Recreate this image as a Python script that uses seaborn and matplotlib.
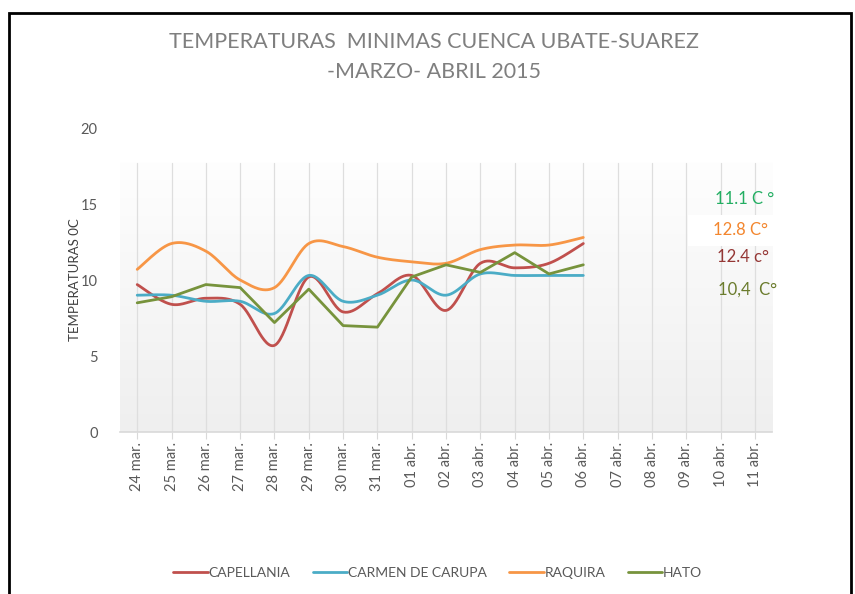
import numpy as np
import pandas as pd
import matplotlib.pyplot as plt
import seaborn as sns
from matplotlib.patches import Rectangle
from matplotlib.colors import LinearSegmentedColormap

# ---------------------------------------------------------------
# DATOS
# ---------------------------------------------------------------
fechas = ['24 mar.', '25 mar.', '26 mar.', '27 mar.', '28 mar.', '29 mar.',
          '30 mar.', '31 mar.', '01 abr.', '02 abr.', '03 abr.', '04 abr.',
          '05 abr.', '06 abr.', '07 abr.', '08 abr.', '09 abr.', '10 abr.',
          '11 abr.']

capellania = [9.7, 8.4, 8.8, 8.4, 5.7, 10.2, 7.9, 9.1, 10.3, 8.0, 11.1, 10.8, 11.1, 12.4]
carmen_de_carupa = [9.0, 9.0, 8.6, 8.6, 7.8, 10.3, 8.6, 9.0, 10.0, 9.0, 10.4, 10.3, 10.3, 10.3]
raquira = [10.7, 12.4, 11.9, 10.0, 9.5, 12.4, 12.2, 11.5, 11.2, 11.1, 12.0, 12.3, 12.3, 12.8]
hato = [8.5, 8.9, 9.7, 9.5, 7.2, 9.4, 7.0, 6.9, 10.2, 11.0, 10.5, 11.8, 10.4, 11.0]

series = ['CAPELLANIA', 'CARMEN DE CARUPA', 'RAQUIRA', 'HATO']
valores = [capellania, carmen_de_carupa, raquira, hato]
suavizado = [True, True, True, False]
colores = ['#C0504D', '#4BACC6', '#F79646', '#77933C']

notas = ['11.1 C °', '12.8 C°', '12.4 c°', '10,4  C°']
notas_colores = ['#22AE62', '#F3862E', '#953735', '#6A7B2C']


# curva suavizada tipo Excel (bezier con tension 1/6)
def suavizar(y, n=30):
    x = np.arange(len(y), dtype=float)
    y = np.asarray(y, dtype=float)
    xs, ys = [], []
    for i in range(len(y) - 1):
        p0 = i - 1 if i > 0 else i
        p3 = i + 2 if i + 2 < len(y) else i + 1
        cx1 = x[i] + (x[i + 1] - x[p0]) / 6
        cy1 = y[i] + (y[i + 1] - y[p0]) / 6
        cx2 = x[i + 1] - (x[p3] - x[i]) / 6
        cy2 = y[i + 1] - (y[p3] - y[i]) / 6
        t = np.linspace(0, 1, n, endpoint=(i == len(y) - 2))
        b0, b1, b2, b3 = (1 - t) ** 3, 3 * t * (1 - t) ** 2, 3 * t ** 2 * (1 - t), t ** 3
        xs.append(b0 * x[i] + b1 * cx1 + b2 * cx2 + b3 * x[i + 1])
        ys.append(b0 * y[i] + b1 * cy1 + b2 * cy2 + b3 * y[i + 1])
    return np.concatenate(xs), np.concatenate(ys)


filas = []
for nombre, vals, sm in zip(series, valores, suavizado):
    if sm:
        xs, ys = suavizar(vals)
    else:
        xs, ys = np.arange(len(vals)), np.asarray(vals)
    for a, b in zip(xs, ys):
        filas.append({'serie': nombre, 'x': a, 'temp': b})
df = pd.DataFrame(filas)

# ---------------------------------------------------------------
# GRAFICO
# ---------------------------------------------------------------
sns.set_style('white')
plt.rcParams['font.family'] = ['Lato', 'DejaVu Sans']

fig = plt.figure(figsize=(8.55, 5.94), dpi=100)
ax = fig.add_axes([0.1404, 0.2727, 0.7626, 0.5118])

# fondo degradado del area de trazado
grad = np.linspace(0, 1, 256).reshape(-1, 1)
ax.imshow(grad, extent=(-0.5, 18.5, 0, 17.7), origin='upper', aspect='auto',
          cmap=LinearSegmentedColormap.from_list('g', ['#FEFEFE', '#EFEFEF']),
          zorder=0)

for i in range(len(fechas)):
    ax.axvline(i, ymin=0, ymax=17.7 / 20, color='#DEDEDE', lw=0.9, zorder=1)

sns.lineplot(data=df, x='x', y='temp', hue='serie', hue_order=series,
             palette=colores, sort=False, estimator=None, units='serie',
             linewidth=2.0, ax=ax, zorder=3)

ax.set_xlim(-0.5, 18.5)
ax.set_ylim(0, 20)
ax.set_yticks([0, 5, 10, 15, 20])
ax.set_xticks(range(len(fechas)))
ax.set_xticklabels(fechas, rotation=90)
ax.tick_params(axis='y', length=0, labelsize=10.5, labelcolor='#595959', pad=16)
ax.tick_params(axis='x', length=5, color='#D9D9D9', labelsize=10.5,
               labelcolor='#595959', pad=2, direction='out', bottom=True)
for s in ['top', 'right', 'left']:
    ax.spines[s].set_visible(False)
ax.spines['bottom'].set_color('#D9D9D9')
ax.spines['bottom'].set_linewidth(1.2)
ax.set_xlabel('')
ax.set_ylabel('TEMPERATURAS 0C', fontsize=9.5, color='#404040', labelpad=0)

# titulo
fig.text(0.508, 0.929, 'TEMPERATURAS  MINIMAS CUENCA UBATE-SUAREZ',
         ha='center', va='center', fontsize=15.5, color='#7F7F7F')
fig.text(0.508, 0.879, '-MARZO- ABRIL 2015',
         ha='center', va='center', fontsize=15.5, color='#7F7F7F')

# caja blanca y notas de temperatura
fig.patches.append(Rectangle((688 / 855, 1 - 246 / 594), 85 / 855, 31 / 594,
                             transform=fig.transFigure, facecolor='white',
                             edgecolor='none', zorder=2))
for txt, c, xp, yp in zip(notas, notas_colores, [715, 713, 717, 718], [199, 230, 257, 290]):
    fig.text(xp / 855, 1 - yp / 594, txt, ha='left', va='center',
             fontsize=12, color=c, zorder=5)

# leyenda
handles, labels = ax.get_legend_handles_labels()
ax.legend_.remove()
fig.legend(handles, labels, loc='center', bbox_to_anchor=(0.512, 1 - 573 / 594),
           ncol=4, frameon=False, handlelength=2.5, handletextpad=0.05,
           columnspacing=1.6, fontsize=10, labelcolor='#595959')

# marco
fig.patches.append(Rectangle((9 / 855, -0.05), 842 / 855, 1.05 - 13 / 594,
                             transform=fig.transFigure, facecolor='none',
                             edgecolor='black', linewidth=2, zorder=10))

fig.savefig('out.png', dpi=100)
